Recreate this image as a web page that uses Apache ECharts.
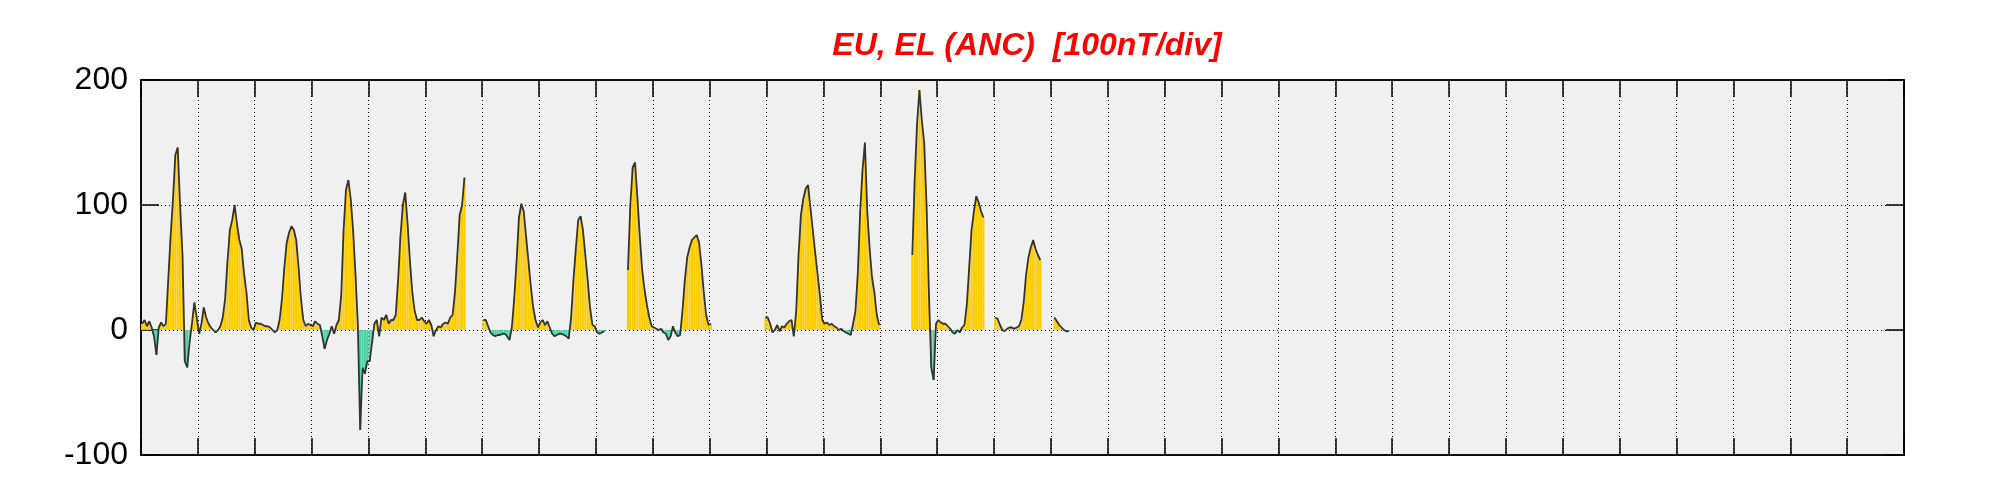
<!DOCTYPE html>
<html><head><meta charset="utf-8">
<script src="https://cdn.jsdelivr.net/npm/echarts@6/dist/echarts.min.js"></script>
<style>html,body{margin:0;padding:0;background:#fff}#c{width:2001px;height:500px}</style>
</head><body><div id="c"></div>
<script>
const titleText = 'EU, EL (ANC)  [100nT/div]';
const yMin = -100, yMax = 200, yStep = 100;
const daysInMonth = 31;
const hoursPerDay = 24;
// hourly values (nT), one array per day of month; null = no data
const d01 = [5,8,3,7,2,-5,-20,2,6,3,5,40,75,105,140,146,100,60,-25,-30,-10,5,22,10];
const d02 = [-3,5,18,10,5,2,0,-2,0,3,10,25,55,80,88,100,85,72,65,45,30,8,2,0];
const d03 = [6,5,5,4,3,3,2,0,-2,0,8,25,50,70,78,83,80,72,50,25,8,3,5,4];
const d04 = [3,7,5,4,-5,-15,-8,-3,3,-3,4,8,28,80,112,120,105,80,45,5,-80,-30,-35,-25];
const d05 = [-25,-10,5,8,-5,10,8,12,5,8,8,12,40,75,100,110,85,55,30,15,8,8,10,7];
const d06 = [5,8,4,-5,0,3,2,5,6,5,10,12,30,60,92,100,122,null,null,null,null,null,null,null];
const d07 = [8,8,3,-2,-4,-5,-4,-4,-3,-3,-5,-8,2,25,55,90,101,95,75,55,35,18,8,2];
const d08 = [6,8,4,7,2,-3,-5,-4,-3,-3,-4,-5,-7,10,40,65,88,91,80,60,40,18,4,3];
const d09 = [-2,-3,-2,-1,null,null,null,null,null,null,null,null,null,48,100,130,134,105,75,48,32,20,10,3];
const d10 = [2,1,0,1,-2,-3,-8,-5,3,-2,-5,-4,15,40,58,66,72,74,76,70,52,30,12,4];
const d11 = [5,null,null,null,null,null,null,null,null,null,null,null,null,null,null,null,null,null,null,null,null,null,null,10];
const d12 = [10,5,-2,0,4,-1,3,2,5,7,8,-5,15,60,92,105,113,116,98,80,62,45,28,8];
const d13 = [5,6,4,5,3,2,0,1,-1,-2,-3,-4,5,15,45,95,128,150,94,65,42,30,12,4];
const d14 = [null,null,null,null,null,null,null,null,null,null,null,null,null,60,120,165,192,168,150,100,30,-30,-40,5];
const d15 = [8,6,5,5,3,1,-2,-3,0,-2,2,4,20,50,80,95,107,102,95,90,null,null,null,null];
const d16 = [10,9,4,0,-1,1,2,2,1,2,3,8,22,44,58,66,72,65,60,56,null,null,null,null];
const d17 = [null,10,7,4,2,0,-1,-1,null,null,null,null,null,null,null,null,null,null,null,null,null,null,null,null];
const days = [d01,d02,d03,d04,d05,d06,d07,d08,d09,d10,d11,d12,d13,d14,d15,d16,d17];

const lineData = [], upData = [], loData = [];
days.forEach((arr, di) => {
  arr.forEach((v, h) => {
    const x = di + (h + 0.5) / hoursPerDay;
    lineData.push([x, v === null ? '-' : v]);
    if (v !== null && v > 0) upData.push([x, v]);
    if (v !== null && v < 0) loData.push([x, v]);
  });
});

const chart = echarts.init(document.getElementById('c'), null, {renderer: 'canvas'});
const dotted = {color: '#000', width: 1, type: [1, 3]};
const tickStyle = {color: '#000', width: 1.5};
const axLine = {show: true, onZero: false, lineStyle: {color: '#000', width: 1.5}};
chart.setOption({
  animation: false,
  backgroundColor: '#fff',
  title: {
    text: titleText, left: 1022, top: 25, textAlign: 'center',
    textStyle: {color: '#f00', fontSize: 32, fontStyle: 'italic', fontWeight: 'bold', fontFamily: 'Liberation Sans'}
  },
  grid: {left: 141, right: 97, top: 80, bottom: 45, show: true, backgroundColor: '#f0f0f0', borderColor: '#000', borderWidth: 1.5},
  xAxis: [
    {type: 'value', min: 0, max: daysInMonth, interval: 1, position: 'bottom',
     axisLine: axLine,
     axisTick: {show: true, inside: true, length: 17, lineStyle: tickStyle},
     axisLabel: {show: false}, splitLine: {show: true, lineStyle: dotted}},
    {type: 'value', min: 0, max: daysInMonth, interval: 1, position: 'top',
     axisLine: axLine,
     axisTick: {show: true, inside: true, length: 17, lineStyle: tickStyle},
     axisLabel: {show: false}, splitLine: {show: false}}
  ],
  yAxis: [
    {type: 'value', min: yMin, max: yMax, interval: yStep, position: 'left',
     axisLine: axLine,
     axisTick: {show: true, inside: true, length: 18, lineStyle: tickStyle},
     axisLabel: {show: true, color: '#000', fontSize: 32, fontFamily: 'Liberation Sans', margin: 13, padding: [5, 0, 0, 0]},
     splitLine: {show: true, lineStyle: dotted}},
    {type: 'value', min: yMin, max: yMax, interval: yStep, position: 'right',
     axisLine: axLine,
     axisTick: {show: true, inside: true, length: 18, lineStyle: tickStyle},
     axisLabel: {show: false}, splitLine: {show: false}}
  ],
  series: [
    {name: 'EU', type: 'bar', data: upData, barWidth: 2.2, barGap: '-100%', itemStyle: {color: '#ffcc00'}, z: 2},
    {name: 'EL', type: 'bar', data: loData, barWidth: 2.2, barGap: '-100%', itemStyle: {color: '#4cd3a5'}, z: 2},
    {name: 'H', type: 'line', data: lineData, showSymbol: false, connectNulls: false,
     lineStyle: {color: '#333', width: 1.8}, z: 3}
  ]
});
</script></body></html>
